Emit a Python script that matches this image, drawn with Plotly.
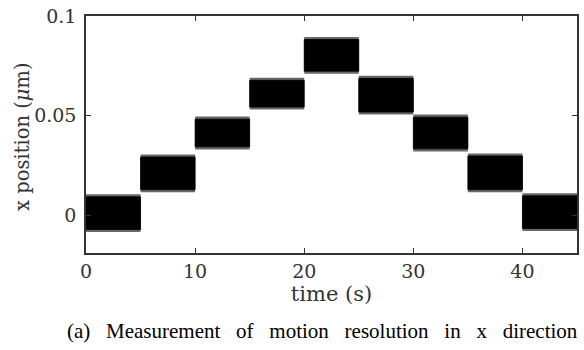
import plotly.graph_objects as go

# step segments (time in s) and band edges (um)
seg_start = [0, 5, 10, 15, 20, 25, 30, 35, 40]
seg_end = [5, 10, 15, 20, 25, 30, 35, 40, 45]
band_hi = [0.0105, 0.0305, 0.0495, 0.0690, 0.0895, 0.0700, 0.0505, 0.0310, 0.0110]
band_lo = [-0.0085, 0.0115, 0.0330, 0.0530, 0.0710, 0.0505, 0.0320, 0.0115, -0.0080]
fuzz = 0.0013

x_ticks = [0, 10, 20, 30, 40]
y_ticks = [0, 0.05, 0.1]
y_ticktext = ["0", "0.05", "0.1"]

caption_words = ["(a)", "Measurement", "of", "motion", "resolution", "in", "x", "direction"]

fig = go.Figure()
for s, e, hi, lo in zip(seg_start, seg_end, band_hi, band_lo):
    fig.add_trace(go.Scatter(x=[s, e, e, s, s], y=[lo, lo, hi, hi, lo], mode="lines",
                             fill="toself", fillcolor="rgba(40,40,40,0.7)",
                             line=dict(width=0), hoverinfo="skip", showlegend=False))
    fig.add_trace(go.Scatter(x=[s, e, e, s, s],
                             y=[lo + fuzz, lo + fuzz, hi - fuzz, hi - fuzz, lo + fuzz],
                             mode="lines", fill="toself", fillcolor="black",
                             line=dict(width=0.8, color="black"), hoverinfo="skip", showlegend=False))

axis_common = dict(showline=True, linecolor="#333", linewidth=1.5, mirror="ticks",
                   ticks="inside", ticklen=5, tickwidth=1.2, tickcolor="#333",
                   showgrid=False, zeroline=False,
                   tickfont=dict(family="DejaVu Serif", size=19, color="#333"))

fig.update_layout(
    width=584, height=350,
    margin=dict(l=86, r=5, t=14, b=97),
    plot_bgcolor="white", paper_bgcolor="white",
    xaxis=dict(range=[0, 45], tickvals=x_ticks, **axis_common,
               title=dict(text="time (s)", font=dict(family="DejaVu Serif", size=21, color="#333"),
                          standoff=6)),
    yaxis=dict(range=[-0.019, 0.1], tickvals=y_ticks, ticktext=y_ticktext, **axis_common,
               ticklabelstandoff=4),
    annotations=[
        dict(text="x position (<i>μ</i>m)", textangle=-90,
             xref="paper", yref="paper", x=-0.128, y=0.49, xanchor="center", yanchor="middle",
             showarrow=False, font=dict(family="DejaVu Serif", size=19.5, color="#333")),
        dict(text="\u2002\u00a0".join(caption_words),
             xref="paper", yref="paper", x=0.482, y=-0.33, xanchor="center",
             yanchor="middle", showarrow=False,
             font=dict(family="Liberation Serif", size=21, color="black"))],
)

fig.write_html("out.html")
